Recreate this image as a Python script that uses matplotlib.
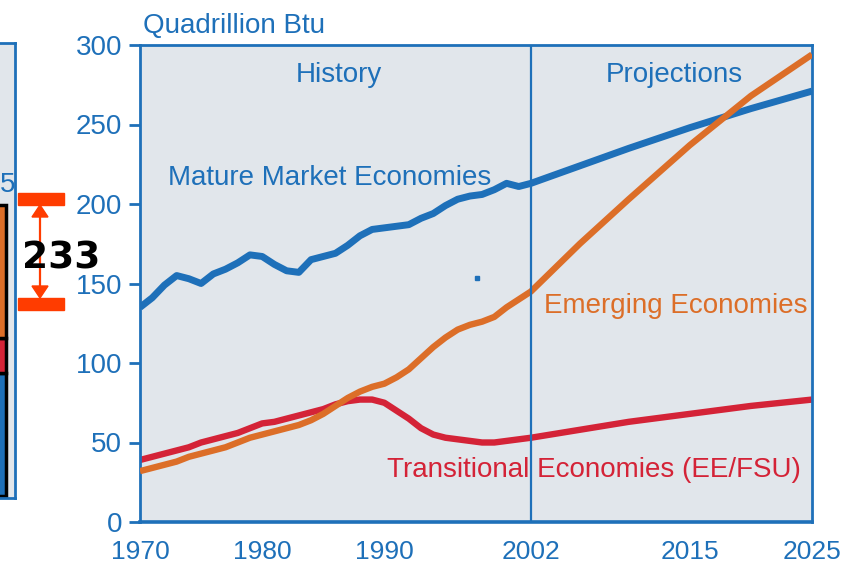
import matplotlib
matplotlib.use("Agg")
import matplotlib.pyplot as plt
from matplotlib.patches import Rectangle

# canvas size in pixels (dpi 100)
W, H = 847, 566

BLUE = "#1e70b9"
ORANGE = "#dc6e28"
RED = "#d42337"
PANEL_BG = "#e1e6eb"
MARK_RED = "#ff3c00"

# History, 1970-2002 (quadrillion Btu)
years_hist = list(range(1970, 2003))
mature_hist = [135, 141, 149, 155, 153, 150, 156, 159, 163, 168,
               167, 162, 158, 157, 165, 167, 169, 174, 180, 184,
               185, 186, 187, 191, 194, 199, 203, 205, 206, 209,
               213, 211, 213]
emerging_hist = [32, 34, 36, 38, 41, 43, 45, 47, 50, 53,
                 55, 57, 59, 61, 64, 68, 73, 78, 82, 85,
                 87, 91, 96, 103, 110, 116, 121, 124, 126, 129,
                 135, 140, 145]
transitional_hist = [39, 41, 43, 45, 47, 50, 52, 54, 56, 59,
                     62, 63, 65, 67, 69, 71, 74, 76, 77, 77,
                     75, 70, 65, 59, 55, 53, 52, 51, 50, 50,
                     51, 52, 53]

# Projections, 2002-2025
years_proj = [2006, 2010, 2015, 2020, 2025]
mature_proj = [224, 235, 248, 260, 271]
emerging_proj = [175, 203, 237, 268, 294]
transitional_proj = [58, 63, 68, 73, 77]

year_ticks = [1970, 1980, 1990, 2002, 2015, 2025]
value_ticks = [0, 50, 100, 150, 200, 250, 300]

# stray dot in the source image
stray_point = (1997.6, 153.5)

# cut-off stacked bar at the left edge (blue, red, orange)
side_bar = [82, 23, 88]
side_colors = [BLUE, RED, ORANGE]

gap_label = "233"

plt.rcParams["font.family"] = ["Liberation Sans", "DejaVu Sans"]


def fx(x):
    return x / W


def fy(y):
    return 1 - y / H


fig = plt.figure(figsize=(W / 100, H / 100), dpi=100)
fig.patch.set_facecolor("white")

# main chart
ax = fig.add_axes([fx(140), fy(522), (812 - 140) / W, (522 - 45) / H])
ax.set_facecolor(PANEL_BG)
ax.set_xlim(1970, 2025)
ax.set_ylim(0, 300)

years = years_hist + years_proj
ax.plot(years, mature_hist + mature_proj, color=BLUE, lw=5, solid_capstyle="butt", zorder=3)
ax.plot(years, emerging_hist + emerging_proj, color=ORANGE, lw=4.6, solid_capstyle="butt", zorder=3)
ax.plot(years, transitional_hist + transitional_proj, color=RED, lw=4.6, solid_capstyle="butt", zorder=2)

ax.axvline(2002, color=BLUE, lw=1.6, zorder=4)
ax.plot([stray_point[0]], [stray_point[1]], "s", ms=2.2, color=BLUE)

for s in ax.spines.values():
    s.set_color(BLUE)
    s.set_linewidth(2)
ax.spines["bottom"].set_linewidth(2.6)

ax.set_xticks(year_ticks)
ax.set_xticklabels([str(y) for y in year_ticks])
ax.set_yticks(value_ticks)
ax.tick_params(axis="y", direction="out", length=8, width=2, color=BLUE,
               labelcolor=BLUE, labelsize=20, pad=5)
ax.tick_params(axis="x", length=0, pad=13, labelcolor=BLUE, labelsize=19)

ax.text(1986.3, 276.7, "History", color=BLUE, fontsize=20, ha="center", va="baseline")
ax.text(2013.7, 276.7, "Projections", color=BLUE, fontsize=20, ha="center", va="baseline")
ax.text(1972.3, 212, "Mature Market Economies", color=BLUE, fontsize=20, va="baseline")
ax.text(2003.1, 131.4, "Emerging Economies", color=ORANGE, fontsize=20, va="baseline")
ax.text(1990.2, 28.3, "Transitional Economies (EE/FSU)", color=RED, fontsize=20, va="baseline")

fig.text(fx(143), fy(33), "Quadrillion Btu", color=BLUE, fontsize=20, va="baseline")

# neighbouring panel, cut off at the left edge
ax2 = fig.add_axes([0, fy(498), 15 / W, (498 - 43) / H])
ax2.set_facecolor(PANEL_BG)
ax2.set_xlim(0, 15)
ax2.set_ylim(-1, 300)
ax2.set_xticks([])
ax2.set_yticks([])
ax2.spines["left"].set_visible(False)
for k in ["right", "top", "bottom"]:
    ax2.spines[k].set_color(BLUE)
    ax2.spines[k].set_linewidth(2)
bottom = 0
for v, c in zip(side_bar, side_colors):
    ax2.bar(-10, v, width=16, bottom=bottom, align="edge", color=c,
            edgecolor="black", linewidth=2.5, clip_on=True)
    bottom += v
fig.text(fx(0), fy(192), "5", color=BLUE, fontsize=20, ha="left", va="baseline")

# red measuring mark
fig.patches.append(Rectangle((fx(18), fy(205)), 46 / W, 12 / H,
                             transform=fig.transFigure, color=MARK_RED))
fig.patches.append(Rectangle((fx(18), fy(310)), 46 / W, 12 / H,
                             transform=fig.transFigure, color=MARK_RED))
fig.add_artist(plt.Line2D([fx(40), fx(40)], [fy(215), fy(288)],
                          transform=fig.transFigure, color=MARK_RED, lw=1.6))
fig.patches.append(plt.Polygon([[fx(40), fy(205)], [fx(32), fy(217)], [fx(48), fy(217)]],
                               closed=True, transform=fig.transFigure, color=MARK_RED))
fig.patches.append(plt.Polygon([[fx(40), fy(298)], [fx(32), fy(286)], [fx(48), fy(286)]],
                               closed=True, transform=fig.transFigure, color=MARK_RED))
fig.text(fx(61), fy(259), gap_label, fontsize=27, fontweight="bold", color="black",
         family="DejaVu Sans", ha="center", va="center")

fig.savefig("out.png", dpi=100)
